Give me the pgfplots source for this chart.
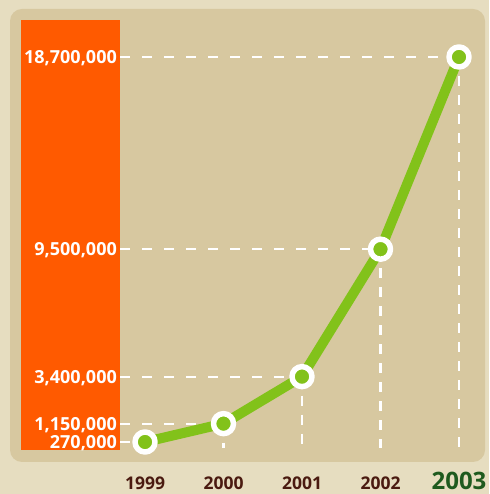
\documentclass[border=0pt]{standalone}
\usepackage{pgfplots}
\pgfplotsset{compat=1.18}
\usepackage{fontspec}
\setmainfont{Open Sans}
\definecolor{outerbg}{HTML}{E6DDC0}
\definecolor{panel}{HTML}{D7C8A0}
\definecolor{orangebar}{HTML}{FF5A00}
\definecolor{lgreen}{HTML}{82C21A}
\definecolor{brownt}{HTML}{4A1A10}
\definecolor{dgreen}{HTML}{1E5A1E}
\begin{document}
\begin{tikzpicture}[x=1pt,y=1pt]
\useasboundingbox (0,0) rectangle (489,494);
\fill[outerbg] (0,0) rectangle (489,494);
\fill[panel, rounded corners=12pt] (10,32) rectangle (485,485);
\fill[orangebar] (21,44) rectangle (120,474);
\begin{axis}[
  at={(120pt,44pt)}, anchor=south west,
  scale only axis, width=339pt, height=393pt,
  xmin=1998.6815, xmax=2003, ymin=-113000, ymax=18700000,
  clip=false,
  axis line style={draw=none}, tick style={draw=none},
  xtick={1999,2000,2001,2002,2003},
  xticklabels={1999,2000,2001,2002,{\fontsize{24}{24}\selectfont\color{dgreen}2003}},
  xticklabel style={anchor=base, yshift=-39pt, font=\fontsize{17.5}{18}\selectfont\bfseries, text=brownt, inner sep=0pt},
  ytick={270000,1150000,3400000,9500000,18700000},
  yticklabels={{270,000},{1,150,000},{3,400,000},{9,500,000},{18,700,000}},
  yticklabel style={anchor=base east, xshift=-3pt, yshift=-6.5pt, font=\fontsize{18}{18}\selectfont\bfseries, text=white, inner sep=0pt},
  scaled y ticks=false,
]
% horizontal guide lines
\addplot[white, line width=2.2pt, dash pattern=on 10pt off 12pt] coordinates {(1998.6815,270000) (1999,270000)};
\addplot[white, line width=2.2pt, dash pattern=on 10pt off 12pt] coordinates {(1998.6815,1150000) (2000,1150000)};
\addplot[white, line width=2.2pt, dash pattern=on 10pt off 12pt] coordinates {(1998.6815,3400000) (2001,3400000)};
\addplot[white, line width=2.2pt, dash pattern=on 10pt off 12pt] coordinates {(1998.6815,9500000) (2002,9500000)};
\addplot[white, line width=2.2pt, dash pattern=on 10pt off 12pt] coordinates {(1998.6815,18700000) (2003,18700000)};
% vertical guide lines
\addplot[white, line width=2.2pt, dash pattern=on 10pt off 9pt] coordinates {(2000,1150000) (2000,-17000)};
\addplot[white, line width=2.2pt, dash pattern=on 10pt off 9pt] coordinates {(2001,3400000) (2001,-17000)};
\addplot[white, line width=2.2pt, dash pattern=on 10pt off 9pt] coordinates {(2002,9500000) (2002,-17000)};
\addplot[white, line width=2.2pt, dash pattern=on 10pt off 9pt] coordinates {(2003,18700000) (2003,-17000)};
% data line
\addplot[lgreen, line width=10pt, line join=round, mark=*, mark size=10pt,
  mark options={fill=lgreen, draw=white, line width=5.5pt}]
  coordinates {(1999,270000) (2000,1150000) (2001,3400000) (2002,9500000) (2003,18700000)};
\end{axis}
\end{tikzpicture}
\end{document}
